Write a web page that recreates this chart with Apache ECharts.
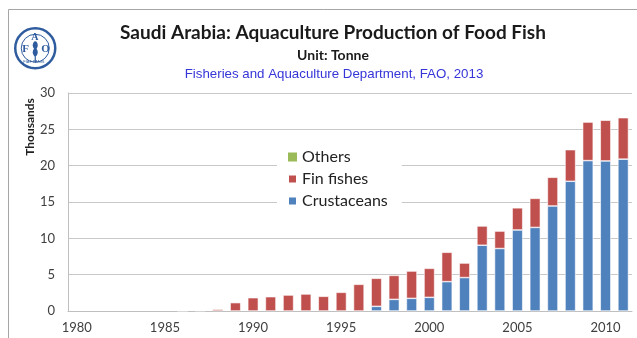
<!DOCTYPE html>
<html>
<head>
<meta charset="utf-8">
<script src="https://cdn.jsdelivr.net/npm/echarts@6/dist/echarts.min.js"></script>
<style>
  html, body { margin: 0; padding: 0; background: #fff; }
  #chart { width: 637px; height: 338px; }
</style>
</head>
<body>
<div id="chart"></div>
<script>
// Years on the category axis
const years = [];
for (let y = 1980; y <= 2011; y++) years.push(String(y));

// Production in thousand tonnes, one value per year 1980–2011
const crustaceans = [
  0, 0, 0, 0, 0, 0, 0, 0, 0, 0,
  0, 0, 0, 0, 0, 0, 0, 0.64, 1.6, 1.74,
  1.88, 4.04, 4.6, 9.05, 8.6, 11.15, 11.5, 14.45, 17.85, 20.7,
  20.65, 20.9
];
const finFishes = [
  0, 0, 0, 0, 0, 0, 0.03, 0.06, 0.23, 1.15,
  1.83, 1.97, 2.2, 2.34, 2.02, 2.57, 3.67, 3.86, 3.3, 3.76,
  3.99, 4.04, 2.0, 2.65, 2.4, 3.05, 4.0, 3.95, 4.35, 5.3,
  5.6, 5.7
];
const others = new Array(32).fill(0);

const yTicks = { min: 0, max: 30, interval: 5 };

// empty years get no bar at all
const asBars = arr => arr.map(v => (v === 0 ? '-' : v));

const chart = echarts.init(document.getElementById('chart'), null, { renderer: 'canvas' });

const labelFont = 'Lato, "Open Sans", sans-serif';

chart.setOption({
  backgroundColor: '#fff',
  animation: false,
  title: [
    {
      text: 'Saudi Arabia: Aquaculture Production of Food Fish',
      left: 328, top: 18, textAlign: 'center',
      textStyle: { fontFamily: labelFont, fontSize: 19, fontWeight: 'bold', color: '#1a1a1a' }
    },
    {
      text: 'Unit: Tonne',
      left: 328, top: 43, textAlign: 'center',
      textStyle: { fontFamily: labelFont, fontSize: 14, fontWeight: 'bold', color: '#1a1a1a' }
    },
    {
      text: 'Fisheries and Aquaculture Department, FAO, 2013',
      left: 329, top: 63, textAlign: 'center',
      textStyle: { fontFamily: '"Liberation Sans", Arial, sans-serif', fontSize: 13.3, fontWeight: 'normal', color: '#3535d8' }
    }
  ],
  legend: {
    orient: 'vertical',
    left: 277, top: 145,
    width: 124,
    data: ['Others', 'Fin fishes', 'Crustaceans'],
    backgroundColor: '#fff',
    padding: [4, 14, 4, 10],
    itemWidth: 9, itemHeight: 9, itemGap: 6,
    icon: 'rect',
    textStyle: { fontFamily: labelFont, fontSize: 16, color: '#222' }
  },
  grid: { left: 68, right: 5, top: 93, bottom: 27, containLabel: false },
  xAxis: {
    type: 'category',
    data: years,
    axisLine: { show: true, lineStyle: { color: '#bfbfbf' } },
    axisTick: { show: false },
    axisLabel: { interval: 4, fontFamily: labelFont, fontSize: 13, color: '#404040', margin: 10 }
  },
  yAxis: {
    type: 'value',
    min: yTicks.min, max: yTicks.max, interval: yTicks.interval,
    axisLine: { show: true, lineStyle: { color: '#bfbfbf' } },
    axisTick: { show: false },
    splitLine: { lineStyle: { color: '#c8c8c8' } },
    axisLabel: { fontFamily: labelFont, fontSize: 13, color: '#404040', margin: 13 }
  },
  series: [
    {
      name: 'Crustaceans', type: 'bar', stack: 'total', data: asBars(crustaceans),
      barCategoryGap: '40%',
      itemStyle: { color: '#4f81bd', borderColor: '#ffffff', borderWidth: 0.6 }
    },
    {
      name: 'Fin fishes', type: 'bar', stack: 'total', data: asBars(finFishes),
      itemStyle: { color: '#c0504d', borderColor: '#ffffff', borderWidth: 0.6 }
    },
    {
      name: 'Others', type: 'bar', stack: 'total', data: asBars(others),
      itemStyle: { color: '#9bbb59' }
    }
  ],
  graphic: [
    // outer frame (left and top edges visible)
    {
      type: 'rect', shape: { x: 8.5, y: 9.5, width: 700, height: 400 },
      style: { fill: 'none', stroke: '#a6a6a6', lineWidth: 1 }, silent: true
    },
    // value axis unit
    {
      type: 'text', x: 30, y: 127, rotation: Math.PI / 2,
      style: { text: 'Thousands', fill: '#222', font: 'bold 12px Lato, "Open Sans", sans-serif', align: 'center', verticalAlign: 'middle' }
    },
    // FAO emblem
    {
      type: 'group', left: 14, top: 27,
      children: [
        { type: 'circle', shape: { cx: 21, cy: 21, r: 20 }, style: { fill: '#fff', stroke: '#2f5c9e', lineWidth: 2.5 } },
        { type: 'circle', shape: { cx: 21, cy: 21, r: 14 }, style: { fill: 'none', stroke: '#2f5c9e', lineWidth: 1 } },
        { type: 'text', style: { x: 8, y: 16, text: 'F', fill: '#2f5c9e', font: 'bold 11px "Liberation Serif", serif' } },
        { type: 'text', style: { x: 17, y: 5, text: 'A', fill: '#2f5c9e', font: 'bold 10px "Liberation Serif", serif' } },
        { type: 'text', style: { x: 27, y: 16, text: 'O', fill: '#2f5c9e', font: 'bold 11px "Liberation Serif", serif' } },
        { type: 'ellipse', shape: { cx: 21, cy: 18, rx: 2.5, ry: 4 }, style: { fill: '#2f5c9e' } },
        { type: 'ellipse', shape: { cx: 21, cy: 25, rx: 2.5, ry: 4 }, style: { fill: '#2f5c9e' } },
        { type: 'line', shape: { x1: 21, y1: 28, x2: 21, y2: 35 }, style: { stroke: '#2f5c9e', lineWidth: 1.2 } },
        { type: 'text', style: { x: 9, y: 33, text: 'FIAT PANIS', fill: '#2f5c9e', font: '4px sans-serif' } }
      ]
    }
  ]
});
</script>
</body>
</html>
